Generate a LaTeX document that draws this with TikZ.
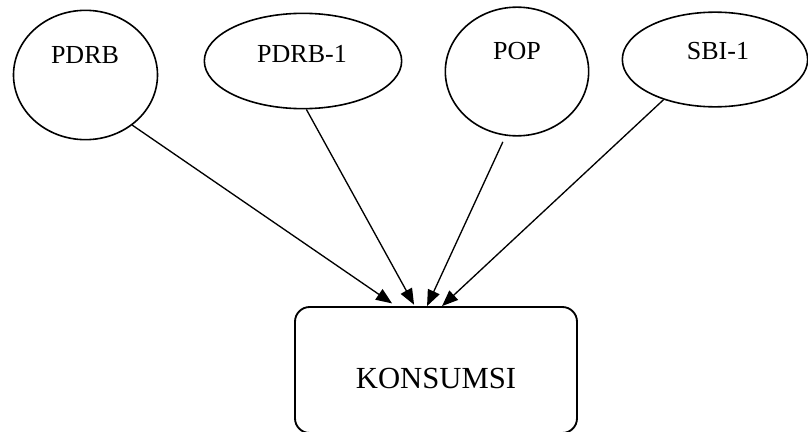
\documentclass[tikz,border=0pt]{standalone}
\usepackage{fontspec}
\setmainfont{Liberation Serif}
\usetikzlibrary{shapes.geometric,arrows.meta}
\begin{document}
\begin{tikzpicture}[x=0.75pt,y=-0.75pt,
  oval/.style={ellipse,draw,line width=1.2pt,inner sep=0pt},
  lab/.style={anchor=base,inner sep=0pt,font=\fontsize{19.5pt}{23pt}\selectfont},
  conn/.style={line width=1pt,-{Triangle[length=12pt,width=9.5pt]}},
  kbox/.style={draw,line width=1.4pt,rounded corners=11pt,inner sep=0pt,
    minimum width=211.5pt,text height=60.75pt,text depth=33.75pt,anchor=base,
    font=\fontsize{23pt}{27pt}\selectfont}]
\useasboundingbox (0,0) rectangle (808,432);
% source ellipses
\node[oval,minimum width=108pt,minimum height=97pt] (pdrb) at (85.5,75) {};
\node[lab] (tpdrb) at (85,63) {PDRB};
\node[oval,minimum width=148pt,minimum height=71.5pt] (pdrbl) at (303,61) {};
\node[lab] (tpdrbl) at (302,62) {PDRB-1};
\node[oval,minimum width=107.5pt,minimum height=96.5pt] (pop) at (517,71.5) {};
\node[lab] (tpop) at (517,60) {POP};
\node[oval,minimum width=139pt,minimum height=71pt] (sbi) at (715,59.5) {};
\node[lab] (tsbi) at (718,59) {SBI-1};
% target box
\node[kbox] (kons) at (436,388) {KONSUMSI};
% connectors
\draw[conn] (pdrb.-47) -- ([xshift=73.5pt,yshift=2pt]kons.north west);
\draw[conn] (pdrbl.-86) -- ([xshift=90pt,yshift=1pt]kons.north west);
\draw[conn,shorten <=5pt] (pop.-100) -- ([xshift=99.75pt]kons.north west);
\draw[conn] (sbi.-142.6) -- ([xshift=111pt]kons.north west);
\end{tikzpicture}
\end{document}
